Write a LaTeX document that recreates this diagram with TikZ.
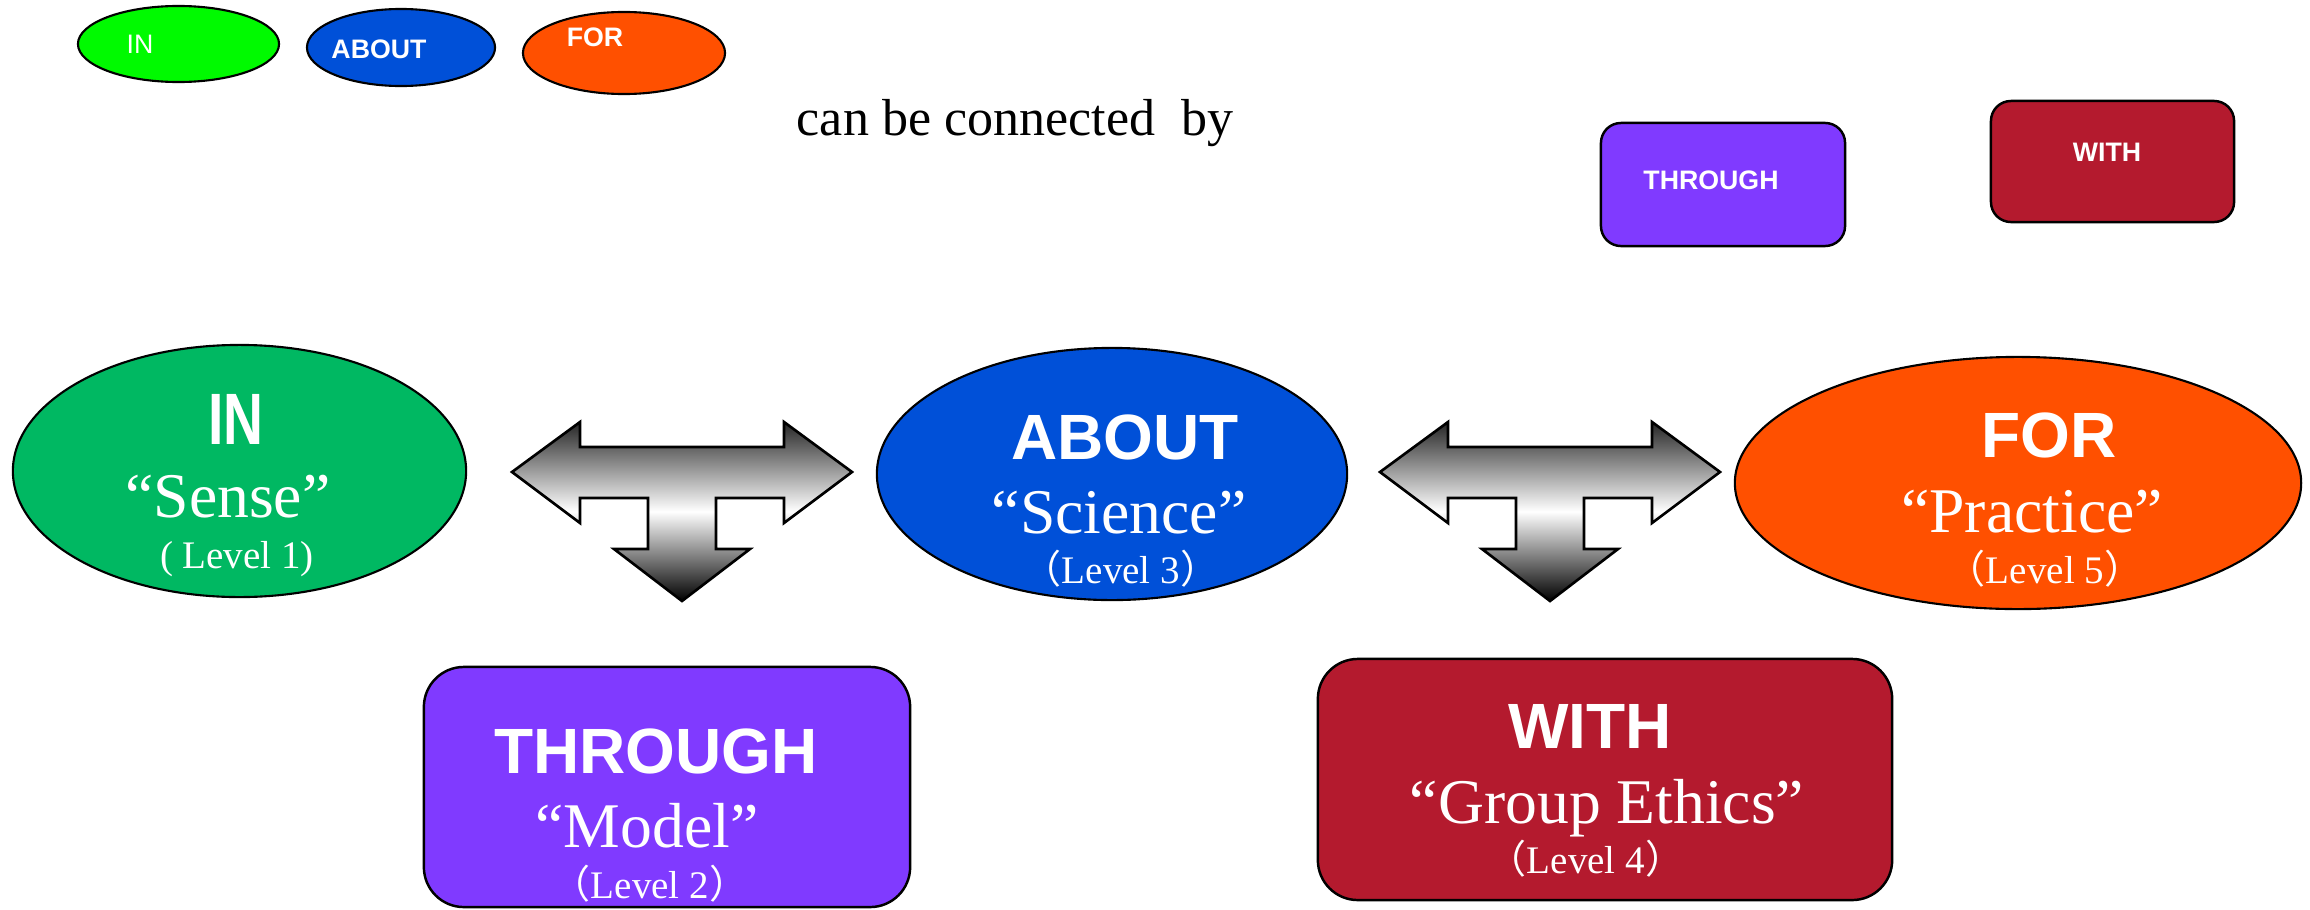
\documentclass[tikz,border=0pt]{standalone}
\usepackage{graphicx}
\usepackage{fontspec}
\setmainfont{Liberation Serif}
\setsansfont{Liberation Sans}
\newfontfamily\cjk{Noto Sans CJK SC}
\usetikzlibrary{shapes.geometric}
\definecolor{inbig}{RGB}{0,184,98}
\definecolor{insmall}{RGB}{0,250,0}
\definecolor{aboutblue}{RGB}{0,80,216}
\definecolor{fororange}{RGB}{255,80,0}
\definecolor{throughpurple}{RGB}{128,58,255}
\definecolor{withred}{RGB}{180,26,46}
\begin{document}
\begin{tikzpicture}[x=0.01cm,y=-0.01cm,
  oval/.style={ellipse, draw=black, line width=0.6pt, inner sep=0pt},
  rbox/.style={rectangle, draw=black, line width=0.7pt, inner sep=0pt},
  lbl/.style={anchor=base, text=white, inner sep=0pt},
  bigsans/.style={lbl, font=\sffamily\bfseries\fontsize{18.2}{20}\selectfont},
  quoted/.style={lbl, font=\fontsize{18.1}{20}\selectfont},
  levelt/.style={lbl, font=\fontsize{11.1}{13}\selectfont},
  smallsans/.style={lbl, font=\sffamily\bfseries\fontsize{7.6}{9}\selectfont},
  smallreg/.style={lbl, font=\sffamily\fontsize{7.6}{9}\selectfont},
  blockarrow/.style={draw=black, line width=0.75pt, line join=miter,
    top color=black!85, bottom color=black, middle color=white},
]
\useasboundingbox (0,0) rectangle (2310,909);

% legend ovals
\node[oval, fill=insmall, minimum width=2.01cm, minimum height=0.76cm] (inS) at (178.5,44) {};
\node[smallreg] (inSt) at (140,53) {IN};
\node[oval, fill=aboutblue, minimum width=1.88cm, minimum height=0.77cm] (aboutS) at (401,47.5) {};
\node[smallsans] (aboutSt) at (379,58) {ABOUT};
\node[oval, fill=fororange, minimum width=2.02cm, minimum height=0.82cm] (forS) at (624,53) {};
\node[smallsans] (forSt) at (595,47) {FOR};

\node[anchor=base, inner sep=0pt, font=\fontsize{14.8}{17}\selectfont] (conn) at (1015,135) {can be connected\ \ by};

% legend boxes
\node[rbox, rounded corners=0.2cm, fill=throughpurple, minimum width=2.44cm, minimum height=1.23cm] (throughS) at (1723,184.5) {};
\node[smallsans] (throughSt) at (1711,189) {THROUGH};
\node[rbox, rounded corners=0.2cm, fill=withred, minimum width=2.43cm, minimum height=1.21cm] (withS) at (2112.5,161.5) {};
\node[smallsans] (withSt) at (2107,161) {WITH};

% IN
\node[oval, fill=inbig, minimum width=4.53cm, minimum height=2.52cm] (inB) at (239.5,471) {};
\node[lbl, font=\sffamily\bfseries\fontsize{20.7}{22}\selectfont] (inB1) at (236,444) {\scalebox{0.76}[1]{IN}};
\node[quoted] (inB2) at (228,517) {“Sense”};
\node[levelt] (inB3) at (237,568) {( Level 1)};

% ABOUT
\node[oval, fill=aboutblue, minimum width=4.70cm, minimum height=2.52cm] (aboutB) at (1112,474) {};
\node[bigsans] (aboutB1) at (1125,459) {ABOUT};
\node[quoted] (aboutB2) at (1119,533) {“Science”};
\node[levelt] (aboutB3) at (1121,583) {{\cjk （}Level 3{\cjk ）}};

% FOR
\node[oval, fill=fororange, minimum width=5.66cm, minimum height=2.52cm] (forB) at (2018,483) {};
\node[bigsans] (forB1) at (2049,457) {FOR};
\node[quoted] (forB2) at (2032,532) {“Practice”};
\node[levelt] (forB3) at (2045,583) {{\cjk （}Level 5{\cjk ）}};

% THROUGH
\node[rbox, rounded corners=0.4cm, fill=throughpurple, minimum width=4.86cm, minimum height=2.40cm] (throughB) at (667,787) {};
\node[bigsans] (throughB1) at (656,773) {THROUGH};
\node[quoted] (throughB2) at (647,847) {“Model”};
\node[levelt] (throughB3) at (650,898) {{\cjk （}Level 2{\cjk ）}};

% WITH
\node[rbox, rounded corners=0.4cm, fill=withred, minimum width=5.74cm, minimum height=2.41cm] (withB) at (1605,779.5) {};
\node[bigsans] (withB1) at (1590,748) {WITH};
\node[quoted] (withB2) at (1607,823) {“Group Ethics”};
\node[levelt] (withB3) at (1586,873) {{\cjk （}Level 4{\cjk ）}};

% block arrows
\coordinate (arrL) at (512,472);
\coordinate (arrR) at (1380,472);
\foreach \a in {arrL,arrR}{
  \path[blockarrow, shift={(\a)}] (0,0) -- (68,-50) -- (68,-25) -- (272,-25) -- (272,-50) -- (340,0)
    -- (272,51) -- (272,26) -- (204,26) -- (204,77) -- (238,77) -- (170,129) -- (102,77)
    -- (136,77) -- (136,26) -- (68,26) -- (68,51) -- cycle;
}
\end{tikzpicture}
\end{document}
